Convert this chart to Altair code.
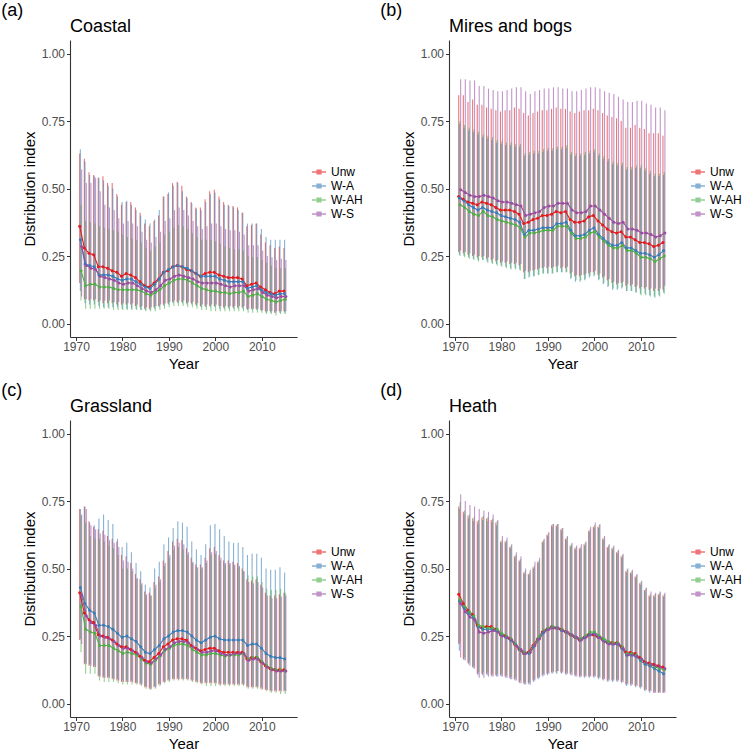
import altair as alt
import pandas as pd

YEARS = list(range(1971, 2016))
SERIES = ["Unw", "W-A", "W-AH", "W-S"]
COLOURS = ["#E41A1C", "#377EB8", "#4DAF4A", "#984EA3"]
# horizontal dodge (in years) so that the four error bars sit side by side
DODGE = {"Unw": -0.21, "W-A": -0.07, "W-AH": 0.07, "W-S": 0.21}

# ---------------- Coastal ----------------
coastal_unw_mean = [0.36,0.28,0.26,0.255,0.21,0.21,0.205,0.195,0.19,0.175, 0.185,0.18,0.17,0.155,0.14,0.135,0.15,0.165,0.19,0.195, 0.21,0.215,0.21,0.20,0.195,0.185,0.175,0.185,0.19,0.19, 0.18,0.175,0.17,0.17,0.17,0.165,0.14,0.145,0.15,0.135, 0.125,0.115,0.11,0.12,0.12]
coastal_unw_low = [0.15,0.09,0.085,0.085,0.08,0.075,0.075,0.075,0.07,0.07, 0.07,0.07,0.065,0.06,0.055,0.055,0.06,0.065,0.07,0.075, 0.08,0.08,0.08,0.075,0.075,0.07,0.065,0.065,0.065,0.065, 0.065,0.06,0.06,0.06,0.06,0.06,0.055,0.055,0.055,0.05, 0.045,0.045,0.04,0.045,0.045]
coastal_unw_high = [0.63,0.61,0.56,0.55,0.54,0.545,0.52,0.52,0.48,0.44, 0.45,0.45,0.43,0.41,0.37,0.36,0.38,0.40,0.47,0.48, 0.52,0.525,0.51,0.47,0.45,0.43,0.43,0.46,0.49,0.495, 0.47,0.45,0.44,0.435,0.43,0.41,0.36,0.365,0.37,0.33, 0.30,0.29,0.28,0.285,0.28]
coastal_wa_mean = [0.31,0.22,0.215,0.21,0.18,0.18,0.18,0.175,0.165,0.16, 0.165,0.165,0.155,0.145,0.135,0.13,0.145,0.165,0.19,0.20, 0.21,0.215,0.21,0.205,0.195,0.185,0.175,0.175,0.175,0.175, 0.165,0.16,0.155,0.155,0.155,0.155,0.13,0.135,0.14,0.125, 0.115,0.11,0.105,0.11,0.11]
coastal_wa_low = [0.12,0.075,0.07,0.07,0.065,0.06,0.06,0.06,0.06,0.055, 0.055,0.055,0.055,0.05,0.05,0.05,0.055,0.06,0.065,0.07, 0.075,0.075,0.075,0.07,0.07,0.065,0.06,0.06,0.06,0.06, 0.055,0.055,0.055,0.055,0.055,0.055,0.05,0.05,0.05,0.045, 0.04,0.04,0.04,0.04,0.04]
coastal_wa_high = [0.645,0.60,0.55,0.545,0.54,0.53,0.51,0.50,0.47,0.45, 0.455,0.44,0.42,0.40,0.385,0.37,0.385,0.42,0.47,0.485, 0.51,0.52,0.49,0.465,0.445,0.425,0.42,0.45,0.48,0.485, 0.46,0.44,0.435,0.43,0.42,0.41,0.37,0.37,0.37,0.35, 0.32,0.31,0.31,0.31,0.31]
coastal_wah_mean = [0.195,0.14,0.145,0.145,0.135,0.135,0.135,0.13,0.125,0.125, 0.125,0.125,0.125,0.12,0.11,0.105,0.115,0.125,0.14,0.15, 0.16,0.165,0.165,0.16,0.15,0.14,0.13,0.125,0.12,0.12, 0.115,0.115,0.11,0.115,0.115,0.12,0.10,0.105,0.11,0.10, 0.09,0.085,0.08,0.085,0.09]
coastal_wah_low = [0.085,0.055,0.055,0.055,0.055,0.055,0.055,0.05,0.05,0.05, 0.05,0.05,0.05,0.05,0.045,0.045,0.045,0.05,0.055,0.06, 0.065,0.065,0.065,0.06,0.06,0.055,0.05,0.05,0.045,0.045, 0.045,0.045,0.045,0.045,0.045,0.045,0.04,0.04,0.04,0.04, 0.035,0.035,0.03,0.035,0.035]
coastal_wah_high = [0.44,0.38,0.375,0.37,0.36,0.355,0.35,0.345,0.34,0.33, 0.32,0.315,0.31,0.30,0.28,0.27,0.285,0.30,0.33,0.34, 0.355,0.365,0.36,0.35,0.335,0.32,0.31,0.31,0.31,0.305, 0.295,0.285,0.28,0.275,0.275,0.27,0.25,0.245,0.245,0.235, 0.225,0.215,0.205,0.205,0.205]
coastal_ws_mean = [0.285,0.215,0.205,0.20,0.175,0.17,0.165,0.16,0.15,0.145, 0.15,0.15,0.14,0.13,0.12,0.115,0.125,0.14,0.16,0.165, 0.175,0.18,0.175,0.17,0.165,0.155,0.15,0.15,0.15,0.15, 0.145,0.14,0.135,0.14,0.14,0.14,0.12,0.125,0.13,0.115, 0.105,0.10,0.095,0.10,0.10]
coastal_ws_low = [0.10,0.09,0.09,0.09,0.085,0.085,0.085,0.08,0.08,0.075, 0.075,0.075,0.07,0.065,0.06,0.06,0.065,0.07,0.075,0.08, 0.085,0.085,0.085,0.08,0.08,0.075,0.07,0.07,0.07,0.07, 0.065,0.065,0.065,0.065,0.065,0.065,0.055,0.055,0.055,0.05, 0.045,0.045,0.045,0.045,0.045]
coastal_ws_high = [0.57,0.52,0.52,0.54,0.49,0.44,0.43,0.42,0.39,0.37, 0.38,0.37,0.36,0.34,0.31,0.30,0.32,0.34,0.38,0.39, 0.42,0.43,0.42,0.40,0.38,0.36,0.35,0.36,0.37,0.37, 0.36,0.35,0.345,0.345,0.34,0.33,0.29,0.29,0.29,0.27, 0.25,0.245,0.235,0.24,0.235]

# ---------------- Mires and bogs ----------------
mires_unw_mean = [0.47,0.46,0.45,0.445,0.44,0.45,0.445,0.44,0.43,0.42, 0.42,0.42,0.415,0.405,0.37,0.375,0.385,0.39,0.40,0.40, 0.405,0.415,0.41,0.415,0.385,0.375,0.375,0.38,0.395,0.40, 0.38,0.365,0.35,0.34,0.335,0.34,0.32,0.32,0.31,0.30, 0.30,0.295,0.285,0.29,0.30]
mires_unw_low = [0.265,0.26,0.255,0.25,0.245,0.245,0.24,0.235,0.23,0.225, 0.225,0.22,0.22,0.215,0.19,0.19,0.195,0.20,0.205,0.205, 0.205,0.21,0.205,0.205,0.185,0.175,0.175,0.18,0.185,0.19, 0.18,0.17,0.16,0.15,0.145,0.15,0.14,0.14,0.135,0.13, 0.13,0.125,0.12,0.12,0.125]
mires_unw_high = [0.845,0.845,0.82,0.83,0.81,0.81,0.80,0.795,0.79,0.785, 0.79,0.79,0.80,0.795,0.78,0.77,0.78,0.785,0.79,0.79, 0.795,0.80,0.795,0.795,0.785,0.78,0.785,0.79,0.79,0.795, 0.79,0.78,0.77,0.765,0.76,0.75,0.725,0.725,0.735,0.725, 0.72,0.705,0.705,0.705,0.695]
mires_wa_mean = [0.465,0.455,0.44,0.43,0.42,0.43,0.42,0.415,0.41,0.40, 0.395,0.39,0.385,0.375,0.33,0.345,0.345,0.35,0.355,0.355, 0.355,0.37,0.37,0.375,0.345,0.325,0.325,0.33,0.345,0.355, 0.33,0.315,0.30,0.29,0.29,0.30,0.28,0.28,0.27,0.26, 0.26,0.255,0.245,0.255,0.27]
mires_wa_low = [0.255,0.25,0.245,0.24,0.235,0.235,0.23,0.225,0.22,0.215, 0.21,0.205,0.205,0.20,0.165,0.17,0.175,0.18,0.185,0.185, 0.185,0.19,0.19,0.19,0.165,0.155,0.155,0.16,0.17,0.175, 0.16,0.145,0.135,0.125,0.125,0.13,0.12,0.12,0.115,0.11, 0.11,0.105,0.10,0.105,0.115]
mires_wa_high = [0.74,0.725,0.715,0.71,0.70,0.69,0.685,0.68,0.67,0.665, 0.66,0.66,0.655,0.655,0.62,0.625,0.63,0.63,0.635,0.64, 0.64,0.645,0.645,0.65,0.625,0.62,0.62,0.625,0.63,0.635, 0.62,0.61,0.60,0.59,0.585,0.585,0.57,0.57,0.575,0.575, 0.565,0.555,0.545,0.545,0.55]
mires_wah_mean = [0.44,0.43,0.415,0.405,0.40,0.415,0.40,0.395,0.385,0.38, 0.375,0.37,0.365,0.355,0.32,0.335,0.335,0.34,0.345,0.345, 0.345,0.36,0.36,0.36,0.335,0.315,0.315,0.32,0.335,0.34, 0.32,0.305,0.29,0.28,0.28,0.29,0.27,0.27,0.26,0.245, 0.245,0.24,0.23,0.24,0.25]
mires_wah_low = [0.25,0.245,0.24,0.235,0.23,0.235,0.225,0.22,0.215,0.21, 0.205,0.20,0.20,0.195,0.165,0.175,0.175,0.18,0.185,0.185, 0.185,0.19,0.19,0.19,0.17,0.16,0.16,0.165,0.175,0.18, 0.165,0.15,0.14,0.13,0.13,0.135,0.12,0.12,0.115,0.105, 0.105,0.10,0.095,0.10,0.11]
mires_wah_high = [0.75,0.735,0.725,0.72,0.71,0.70,0.695,0.69,0.68,0.675, 0.67,0.67,0.665,0.665,0.63,0.635,0.64,0.64,0.645,0.65, 0.65,0.655,0.655,0.66,0.635,0.63,0.63,0.635,0.64,0.645, 0.63,0.62,0.61,0.60,0.595,0.595,0.58,0.58,0.585,0.585, 0.575,0.565,0.555,0.555,0.56]
mires_ws_mean = [0.495,0.485,0.475,0.47,0.47,0.475,0.47,0.465,0.455,0.45, 0.45,0.445,0.44,0.435,0.40,0.405,0.41,0.415,0.43,0.435, 0.435,0.445,0.445,0.445,0.42,0.41,0.41,0.415,0.435,0.435, 0.42,0.405,0.39,0.375,0.37,0.375,0.35,0.35,0.345,0.335, 0.335,0.33,0.32,0.325,0.335]
mires_ws_low = [0.27,0.265,0.26,0.255,0.25,0.25,0.245,0.24,0.235,0.23, 0.23,0.225,0.225,0.22,0.195,0.195,0.20,0.205,0.21,0.21, 0.21,0.215,0.21,0.21,0.19,0.18,0.18,0.185,0.19,0.195, 0.185,0.175,0.165,0.155,0.15,0.155,0.145,0.145,0.14,0.135, 0.135,0.13,0.13,0.13,0.14]
mires_ws_high = [0.905,0.905,0.90,0.90,0.88,0.88,0.87,0.865,0.86,0.86, 0.865,0.87,0.875,0.875,0.86,0.85,0.86,0.865,0.87,0.87, 0.875,0.875,0.87,0.87,0.86,0.86,0.865,0.87,0.875,0.875, 0.87,0.86,0.855,0.85,0.84,0.83,0.82,0.82,0.825,0.825, 0.815,0.81,0.80,0.80,0.79]

# ---------------- Grassland ----------------
grass_unw_mean = [0.41,0.335,0.31,0.30,0.255,0.25,0.245,0.235,0.22,0.21, 0.21,0.20,0.19,0.175,0.16,0.155,0.17,0.185,0.21,0.22, 0.235,0.24,0.24,0.235,0.215,0.205,0.195,0.20,0.205,0.205, 0.195,0.19,0.19,0.19,0.19,0.19,0.165,0.17,0.17,0.155, 0.14,0.13,0.125,0.125,0.125]
grass_unw_low = [0.235,0.145,0.14,0.135,0.10,0.095,0.095,0.09,0.085,0.08, 0.08,0.08,0.075,0.07,0.06,0.055,0.06,0.07,0.08,0.085, 0.09,0.09,0.09,0.09,0.085,0.08,0.075,0.075,0.075,0.075, 0.07,0.07,0.07,0.07,0.07,0.07,0.06,0.06,0.06,0.055, 0.05,0.045,0.045,0.045,0.045]
grass_unw_high = [0.72,0.73,0.675,0.655,0.645,0.64,0.62,0.61,0.60,0.55, 0.545,0.52,0.48,0.46,0.415,0.41,0.45,0.47,0.53,0.565, 0.60,0.61,0.605,0.575,0.54,0.515,0.515,0.54,0.575,0.58, 0.55,0.53,0.53,0.525,0.52,0.50,0.46,0.455,0.46,0.44, 0.41,0.40,0.40,0.405,0.41]
grass_wa_mean = [0.43,0.37,0.345,0.335,0.29,0.29,0.285,0.275,0.26,0.245, 0.25,0.24,0.23,0.21,0.19,0.185,0.20,0.215,0.24,0.25, 0.265,0.27,0.27,0.265,0.25,0.235,0.225,0.235,0.245,0.25, 0.24,0.235,0.235,0.235,0.235,0.235,0.215,0.22,0.22,0.205, 0.185,0.175,0.17,0.17,0.165]
grass_wa_low = [0.24,0.15,0.145,0.14,0.105,0.10,0.10,0.095,0.09,0.085, 0.085,0.085,0.08,0.075,0.065,0.06,0.065,0.075,0.085,0.09, 0.095,0.095,0.095,0.095,0.09,0.085,0.08,0.08,0.08,0.08, 0.075,0.075,0.075,0.075,0.075,0.075,0.065,0.065,0.065,0.06, 0.055,0.05,0.05,0.05,0.05]
grass_wa_high = [0.72,0.73,0.67,0.66,0.685,0.70,0.68,0.665,0.61,0.58, 0.595,0.56,0.52,0.49,0.44,0.43,0.50,0.525,0.59,0.615, 0.65,0.675,0.67,0.655,0.60,0.57,0.55,0.59,0.66,0.665, 0.645,0.62,0.60,0.595,0.595,0.58,0.55,0.555,0.555,0.54, 0.50,0.495,0.495,0.505,0.485]
grass_wah_mean = [0.36,0.275,0.265,0.26,0.215,0.215,0.215,0.205,0.195,0.185, 0.19,0.185,0.18,0.165,0.15,0.145,0.16,0.175,0.195,0.205, 0.215,0.22,0.22,0.215,0.20,0.19,0.18,0.18,0.185,0.185, 0.18,0.175,0.18,0.18,0.18,0.185,0.165,0.17,0.17,0.155, 0.14,0.13,0.125,0.125,0.12]
grass_wah_low = [0.19,0.11,0.11,0.11,0.085,0.08,0.08,0.08,0.075,0.07, 0.07,0.07,0.07,0.065,0.055,0.05,0.055,0.065,0.075,0.08, 0.085,0.085,0.085,0.085,0.08,0.075,0.07,0.065,0.065,0.065, 0.065,0.065,0.065,0.065,0.065,0.065,0.055,0.055,0.055,0.05, 0.045,0.04,0.04,0.035,0.035]
grass_wah_high = [0.695,0.67,0.62,0.61,0.61,0.60,0.585,0.575,0.55,0.50, 0.50,0.49,0.46,0.44,0.40,0.40,0.43,0.45,0.51,0.54, 0.57,0.58,0.57,0.55,0.52,0.50,0.50,0.52,0.55,0.555, 0.53,0.515,0.515,0.51,0.505,0.49,0.475,0.47,0.47,0.45, 0.425,0.42,0.42,0.425,0.41]
grass_ws_mean = [0.40,0.325,0.30,0.29,0.25,0.245,0.24,0.23,0.215,0.205, 0.205,0.195,0.185,0.17,0.155,0.15,0.165,0.18,0.20,0.21, 0.225,0.23,0.23,0.225,0.21,0.20,0.19,0.19,0.195,0.195, 0.185,0.18,0.18,0.185,0.185,0.185,0.16,0.165,0.165,0.15, 0.135,0.125,0.12,0.12,0.12]
grass_ws_low = [0.22,0.145,0.14,0.135,0.10,0.095,0.095,0.09,0.085,0.08, 0.08,0.08,0.075,0.07,0.06,0.055,0.06,0.07,0.08,0.085, 0.09,0.09,0.09,0.09,0.085,0.08,0.075,0.075,0.075,0.075, 0.07,0.07,0.07,0.07,0.07,0.07,0.06,0.06,0.06,0.055, 0.05,0.045,0.045,0.045,0.045]
grass_ws_high = [0.70,0.72,0.66,0.645,0.63,0.625,0.605,0.595,0.58,0.53, 0.525,0.50,0.465,0.445,0.405,0.40,0.44,0.46,0.52,0.55, 0.585,0.595,0.59,0.56,0.525,0.505,0.505,0.53,0.56,0.565, 0.54,0.52,0.52,0.515,0.51,0.49,0.45,0.445,0.45,0.43, 0.40,0.39,0.39,0.395,0.40]

# ---------------- Heath ----------------
heath_unw_mean = [0.405,0.37,0.345,0.33,0.29,0.28,0.285,0.285,0.275,0.255, 0.25,0.24,0.22,0.20,0.185,0.19,0.215,0.24,0.265,0.275, 0.285,0.28,0.275,0.265,0.255,0.245,0.235,0.245,0.255,0.255, 0.245,0.235,0.225,0.225,0.225,0.21,0.19,0.19,0.185,0.17, 0.155,0.15,0.145,0.14,0.135]
heath_unw_low = [0.22,0.165,0.15,0.135,0.11,0.11,0.11,0.105,0.105,0.105, 0.10,0.095,0.09,0.08,0.075,0.075,0.085,0.095,0.105,0.11, 0.115,0.115,0.115,0.11,0.11,0.105,0.10,0.10,0.10,0.10, 0.095,0.09,0.085,0.085,0.085,0.08,0.07,0.07,0.065,0.06, 0.05,0.045,0.04,0.04,0.04]
heath_unw_high = [0.73,0.71,0.695,0.685,0.675,0.69,0.685,0.68,0.67,0.60, 0.60,0.58,0.545,0.53,0.485,0.48,0.505,0.525,0.60,0.625, 0.66,0.66,0.645,0.61,0.585,0.575,0.575,0.59,0.64,0.655, 0.655,0.61,0.58,0.575,0.56,0.545,0.49,0.485,0.47,0.445, 0.42,0.40,0.40,0.405,0.40]
heath_wa_mean = [0.38,0.355,0.335,0.32,0.285,0.275,0.275,0.275,0.27,0.255, 0.245,0.235,0.22,0.20,0.185,0.185,0.21,0.24,0.26,0.275, 0.285,0.28,0.27,0.265,0.255,0.245,0.235,0.245,0.255,0.26, 0.245,0.235,0.225,0.22,0.22,0.205,0.18,0.18,0.175,0.16, 0.145,0.14,0.13,0.12,0.11]
heath_wa_low = [0.195,0.16,0.145,0.13,0.105,0.105,0.105,0.10,0.10,0.10, 0.095,0.09,0.085,0.075,0.07,0.07,0.08,0.09,0.10,0.105, 0.11,0.11,0.11,0.105,0.105,0.10,0.095,0.095,0.095,0.095, 0.09,0.085,0.08,0.08,0.08,0.075,0.065,0.065,0.06,0.055, 0.045,0.04,0.04,0.04,0.04]
heath_wa_high = [0.72,0.70,0.685,0.675,0.665,0.68,0.675,0.67,0.66,0.595, 0.595,0.575,0.54,0.525,0.48,0.475,0.50,0.52,0.595,0.62, 0.655,0.655,0.64,0.605,0.58,0.57,0.57,0.585,0.635,0.65, 0.65,0.605,0.575,0.57,0.555,0.54,0.485,0.48,0.465,0.44, 0.415,0.395,0.395,0.40,0.395]
heath_wah_mean = [0.385,0.36,0.34,0.325,0.29,0.285,0.28,0.28,0.275,0.26, 0.25,0.24,0.22,0.20,0.19,0.19,0.215,0.245,0.27,0.28, 0.285,0.28,0.275,0.265,0.255,0.245,0.24,0.25,0.265,0.265, 0.25,0.24,0.23,0.225,0.225,0.21,0.185,0.185,0.18,0.165, 0.15,0.145,0.135,0.13,0.125]
heath_wah_low = [0.225,0.17,0.155,0.14,0.115,0.115,0.115,0.11,0.11,0.11, 0.105,0.10,0.095,0.085,0.08,0.08,0.09,0.10,0.11,0.115, 0.12,0.12,0.12,0.115,0.115,0.11,0.105,0.105,0.105,0.105, 0.10,0.095,0.09,0.09,0.09,0.085,0.075,0.075,0.07,0.065, 0.055,0.05,0.045,0.045,0.045]
heath_wah_high = [0.745,0.715,0.70,0.69,0.68,0.695,0.69,0.685,0.675,0.605, 0.605,0.585,0.55,0.535,0.49,0.485,0.51,0.53,0.605,0.63, 0.665,0.665,0.65,0.615,0.59,0.58,0.58,0.595,0.645,0.66, 0.66,0.615,0.585,0.58,0.565,0.55,0.495,0.49,0.475,0.45, 0.425,0.405,0.405,0.41,0.405]
heath_ws_mean = [0.37,0.34,0.32,0.31,0.265,0.26,0.265,0.27,0.265,0.25, 0.245,0.235,0.215,0.20,0.185,0.19,0.215,0.24,0.265,0.275, 0.28,0.28,0.27,0.265,0.255,0.245,0.235,0.245,0.255,0.255, 0.245,0.23,0.22,0.22,0.22,0.205,0.18,0.18,0.175,0.165, 0.15,0.145,0.14,0.135,0.13]
heath_ws_low = [0.17,0.16,0.14,0.13,0.095,0.095,0.10,0.10,0.10,0.10, 0.095,0.09,0.085,0.075,0.07,0.07,0.085,0.095,0.105,0.11, 0.115,0.12,0.115,0.11,0.105,0.10,0.10,0.10,0.10,0.10, 0.095,0.09,0.085,0.085,0.085,0.08,0.07,0.07,0.065,0.06, 0.05,0.045,0.04,0.04,0.04]
heath_ws_high = [0.775,0.75,0.735,0.73,0.72,0.715,0.71,0.70,0.68,0.62, 0.615,0.59,0.56,0.545,0.50,0.495,0.525,0.54,0.61,0.635, 0.665,0.665,0.65,0.62,0.595,0.585,0.59,0.60,0.655,0.67, 0.665,0.62,0.59,0.585,0.57,0.555,0.50,0.495,0.48,0.455, 0.43,0.415,0.41,0.415,0.41]

PANELS = [
    ("(a)", "Coastal", {
        "Unw": (coastal_unw_mean, coastal_unw_low, coastal_unw_high),
        "W-A": (coastal_wa_mean, coastal_wa_low, coastal_wa_high),
        "W-AH": (coastal_wah_mean, coastal_wah_low, coastal_wah_high),
        "W-S": (coastal_ws_mean, coastal_ws_low, coastal_ws_high)}),
    ("(b)", "Mires and bogs", {
        "Unw": (mires_unw_mean, mires_unw_low, mires_unw_high),
        "W-A": (mires_wa_mean, mires_wa_low, mires_wa_high),
        "W-AH": (mires_wah_mean, mires_wah_low, mires_wah_high),
        "W-S": (mires_ws_mean, mires_ws_low, mires_ws_high)}),
    ("(c)", "Grassland", {
        "Unw": (grass_unw_mean, grass_unw_low, grass_unw_high),
        "W-A": (grass_wa_mean, grass_wa_low, grass_wa_high),
        "W-AH": (grass_wah_mean, grass_wah_low, grass_wah_high),
        "W-S": (grass_ws_mean, grass_ws_low, grass_ws_high)}),
    ("(d)", "Heath", {
        "Unw": (heath_unw_mean, heath_unw_low, heath_unw_high),
        "W-A": (heath_wa_mean, heath_wa_low, heath_wa_high),
        "W-AH": (heath_wah_mean, heath_wah_low, heath_wah_high),
        "W-S": (heath_ws_mean, heath_ws_low, heath_ws_high)}),
]

FONT = "Liberation Sans"
PLOT_W, PLOT_H = 227, 297


def long_table(series_data):
    rows = []
    for name in SERIES:
        mean, low, high = series_data[name]
        for yr, m, lo, hi in zip(YEARS, mean, low, high):
            rows.append({"Year": yr, "Xpos": yr + DODGE[name], "Series": name,
                         "Index": m, "Lower": lo, "Upper": hi})
    return pd.DataFrame(rows)


def panel(tag, name, series_data):
    df = long_table(series_data)
    x = alt.X("Xpos:Q",
              scale=alt.Scale(domain=[1968.7, 2017.6], nice=False, zero=False),
              axis=alt.Axis(title="Year", values=[1970, 1980, 1990, 2000, 2010],
                            format="d", grid=False, labelPadding=1))
    yscale = alt.Scale(domain=[-0.05, 1.05], nice=False, zero=False)
    yaxis = alt.Axis(title="Distribution index", values=[0, 0.25, 0.5, 0.75, 1.0],
                     format=".2f", grid=False)
    colour = alt.Color("Series:N", scale=alt.Scale(domain=SERIES, range=COLOURS),
                       legend=alt.Legend(title=None, orient="none", legendX=PLOT_W + 14,
                                         legendY=124,
                                         symbolType="M-1,0H1M-0.28,-0.28H0.28V0.28H-0.28Z",
                                         symbolSize=196, symbolStrokeWidth=1.3,
                                         labelFontSize=12, labelFont=FONT, labelColor="#000000",
                                         rowPadding=0, labelOffset=4, padding=0))
    base = alt.Chart(df)
    bars = base.mark_rule(strokeWidth=1.1, opacity=0.6).encode(
        x=x, y=alt.Y("Lower:Q", scale=yscale, axis=yaxis), y2="Upper:Q", color=colour)
    lines = base.mark_line(strokeWidth=1.1).encode(
        x=x, y=alt.Y("Index:Q", scale=yscale, axis=yaxis), color=colour)
    dots = base.mark_circle(size=9, opacity=1).encode(
        x=x, y=alt.Y("Index:Q", scale=yscale, axis=yaxis), color=colour)
    layer = alt.layer(bars, lines, dots).properties(
        width=PLOT_W, height=PLOT_H,
        title=alt.TitleParams(name, anchor="start", frame="group", fontSize=18,
                              fontWeight="normal", font=FONT, color="#000000", offset=4))
    return alt.vconcat(layer, title=alt.TitleParams(
        tag, anchor="start", frame="bounds", fontSize=18, fontWeight="normal",
        font=FONT, color="#000000", dx=-21, offset=-2)).resolve_scale(color="independent")


charts = [panel(*p) for p in PANELS]
top = alt.hconcat(charts[0], charts[1], spacing=17).resolve_scale(color="independent")
bottom = alt.hconcat(charts[2], charts[3], spacing=17).resolve_scale(color="independent")

chart = alt.vconcat(top, bottom, spacing=10).resolve_scale(color="independent").properties(
    padding={"left": 1, "top": 2, "right": 0, "bottom": 0}
).configure_view(stroke=None).configure_axis(
    grid=False, domainColor="#333333", domainWidth=1.1, tickColor="#333333",
    tickSize=3.5, labelColor="#4D4D4D", labelFontSize=12, labelFont=FONT,
    titleFont=FONT, titleFontSize=15, titleFontWeight="normal", titleColor="#000000",
    labelPadding=2, titlePadding=4
)

chart.save("out.html", embed_options={"renderer": "svg", "actions": False})
